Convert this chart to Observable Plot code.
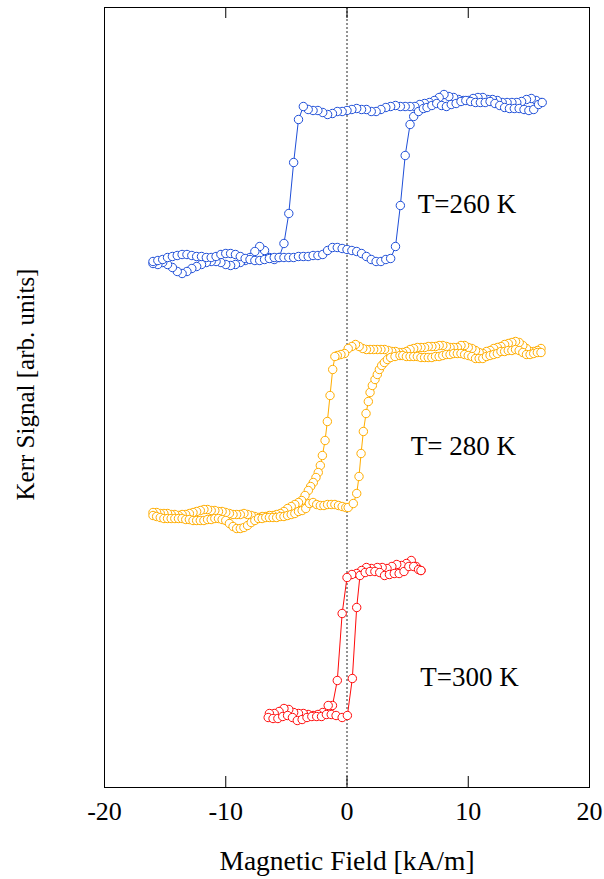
<!DOCTYPE html>
<html>
<head>
<meta charset="utf-8">
<script src="https://cdn.jsdelivr.net/npm/d3@7"></script>
<script src="https://cdn.jsdelivr.net/npm/@observablehq/plot@0.6"></script>
<style>
  html, body { margin: 0; padding: 0; background: #ffffff; }
  #chart { width: 604px; height: 879px; }
</style>
</head>
<body>
<div id="chart"></div>
<script>
// ---------- data (field in kA/m, Kerr signal in arbitrary units) ----------
const xTicks = [-20, -10, 0, 10, 20];
const xLabel = "Magnetic Field [kA/m]";
const yLabel = "Kerr Signal [arb. units]";
const curveLabels = ["T=260 K", "T= 280 K", "T=300 K"];
const curveLabelField = [9.9, 9.6, 10.1];
const curveLabelSignal = [575, 333, 102];

// T = 260 K : sweep down (+16 -> -16), then sweep up (-16 -> +16)
const blue260Down = [
[16.0,685],[15.6,687],[15.2,689],[14.8,688],[14.4,686],[14.0,685],[13.6,685],[13.2,685],[12.8,685],[12.4,687],
[12.0,688],[11.6,688],[11.2,690],[10.8,690],[10.4,689],[10.0,687],[9.6,687],[9.2,688],[8.8,690],[8.4,691],
[8.0,693],[7.6,690],[7.2,687],[6.8,685],[6.4,684],[6.0,683],[5.6,681],[5.2,681],[4.8,681],[4.4,681],
[4.0,682],[3.6,681],[3.2,680],[2.8,678],[2.4,676],[2.0,676],[1.6,678],[1.2,678],[0.8,679],[0.4,678],
[0.0,677],[-0.4,676],[-0.8,676],[-1.2,674],[-1.6,673],[-2.0,675],[-2.4,677],[-2.8,677],[-3.2,678],[-3.6,681],
[-4.0,668],[-4.4,625],[-4.8,574],[-5.2,544],[-5.6,530],[-6.0,528],[-6.4,530],[-6.8,537],[-7.2,541],[-7.6,536],
[-8.0,530],[-8.4,527],[-8.8,525],[-9.2,523],[-9.6,522],[-10.0,523],[-10.4,525],[-10.8,526],[-11.2,526],[-11.6,525],
[-12.0,523],[-12.4,521],[-12.8,519],[-13.2,516],[-13.6,514],[-14.0,516],[-14.4,520],[-14.8,523],[-15.2,525],[-15.6,523],
[-16.0,524]
];
const blue260Up = [
[-16.0,526],[-15.6,527],[-15.2,528],[-14.8,530],[-14.4,531],[-14.0,532],[-13.6,533],[-13.2,533],[-12.8,532],[-12.4,531],
[-12.0,531],[-11.6,530],[-11.2,530],[-10.8,531],[-10.4,533],[-10.0,534],[-9.6,534],[-9.2,533],[-8.8,531],[-8.4,529],
[-8.0,528],[-7.6,527],[-7.2,527],[-6.8,528],[-6.4,529],[-6.0,530],[-5.6,530],[-5.2,530],[-4.8,530],[-4.4,530],
[-4.0,531],[-3.6,531],[-3.2,531],[-2.8,532],[-2.4,532],[-2.0,533],[-1.6,537],[-1.2,540],[-0.8,540],[-0.4,539],
[0.0,538],[0.4,537],[0.8,536],[1.2,534],[1.6,531],[2.0,528],[2.4,526],[2.8,526],[3.2,528],[3.6,529],
[4.0,541],[4.4,582],[4.8,632],[5.2,663],[5.5,671],[5.9,676],[6.3,679],[6.6,680],[7.0,682],[7.4,684],
[7.8,682],[8.2,681],[8.6,683],[9.0,684],[9.4,686],[9.8,687],[10.2,686],[10.6,685],[11.0,685],[11.4,685],
[11.8,686],[12.2,684],[12.6,682],[13.0,680],[13.4,679],[13.8,679],[14.2,679],[14.6,678],[15.0,677],[15.4,678],
[15.8,683],[16.1,685]
];

// T = 280 K
const orange280Down = [
[16.0,439],[15.7,437],[15.4,436],[15.1,436],[14.8,439],[14.5,442],[14.2,445],[13.9,446],[13.6,445],[13.3,444],
[13.0,443],[12.7,441],[12.4,440],[12.1,439],[11.8,437],[11.5,436],[11.2,434],[10.9,435],[10.6,437],[10.3,439],
[10.0,440],[9.7,442],[9.4,442],[9.1,440],[8.8,440],[8.5,440],[8.2,441],[7.9,442],[7.6,442],[7.3,441],
[7.0,441],[6.7,441],[6.4,440],[6.1,440],[5.8,440],[5.5,439],[5.2,438],[4.9,436],[4.6,435],[4.3,435],
[4.0,436],[3.7,436],[3.4,437],[3.1,438],[2.8,438],[2.5,438],[2.2,438],[1.9,438],[1.6,438],[1.3,439],
[1.0,441],[0.7,443],[0.4,441],[0.1,439],[-0.2,434],[-0.5,433],[-0.8,432],[-1.0,431],[-1.18,418],[-1.4,392],
[-1.62,366],[-1.81,347],[-2.03,332],[-2.2,322],[-2.37,315],[-2.56,310],[-2.78,305],[-3.0,301],[-3.19,297],[-3.46,292],
[-3.74,287],[-4.0,285],[-4.3,283],[-4.6,281],[-4.9,279],[-5.2,276],[-5.5,274],[-5.8,273],[-6.1,272],[-6.4,272],
[-6.7,271],[-7.0,271],[-7.3,270],[-7.6,271],[-7.9,272],[-8.2,273],[-8.5,274],[-8.8,273],[-9.1,273],[-9.4,273],
[-9.7,274],[-10.0,275],[-10.3,276],[-10.6,276],[-10.9,277],[-11.2,277],[-11.5,278],[-11.8,278],[-12.1,277],[-12.4,276],
[-12.7,275],[-13.0,274],[-13.3,273],[-13.6,273],[-13.9,272],[-14.2,273],[-14.5,273],[-14.8,274],[-15.1,274],[-15.4,274],
[-15.7,275],[-16.0,275]
];
const orange280Up = [
[-16.0,272],[-15.7,271],[-15.4,270],[-15.1,269],[-14.8,269],[-14.5,269],[-14.2,269],[-13.9,269],[-13.6,269],[-13.3,268],
[-13.0,268],[-12.7,267],[-12.4,267],[-12.1,267],[-11.8,267],[-11.5,268],[-11.2,268],[-10.9,269],[-10.6,269],[-10.3,268],
[-10.0,267],[-9.7,264],[-9.4,261],[-9.1,259],[-8.8,259],[-8.5,260],[-8.2,262],[-7.9,265],[-7.6,267],[-7.3,269],
[-7.0,269],[-6.7,270],[-6.4,270],[-6.1,270],[-5.8,270],[-5.5,271],[-5.2,271],[-4.9,272],[-4.6,273],[-4.3,274],
[-4.0,276],[-3.7,277],[-3.4,279],[-3.1,284],[-2.8,285],[-2.5,283],[-2.2,282],[-1.9,282],[-1.6,283],[-1.3,283],
[-1.0,283],[-0.7,282],[-0.4,281],[-0.1,280],[0.1,280],[0.52,284],[0.8,294],[0.99,311],[1.16,334],[1.35,356],
[1.57,374],[1.76,386],[1.9,395],[2.09,402],[2.31,408],[2.5,413],[2.67,418],[2.86,422],[3.08,425],[3.33,428],
[3.6,430],[3.96,431],[4.37,432],[4.6,432],[4.9,431],[5.2,431],[5.5,431],[5.8,431],[6.1,430],[6.4,430],
[6.7,430],[7.0,430],[7.3,431],[7.6,431],[7.9,432],[8.2,433],[8.5,433],[8.8,434],[9.1,434],[9.4,434],
[9.7,433],[10.0,432],[10.3,431],[10.6,429],[10.9,429],[11.2,429],[11.5,431],[11.8,432],[12.1,433],[12.4,434],
[12.7,436],[13.0,436],[13.3,437],[13.6,437],[13.9,438],[14.2,437],[14.5,435],[14.8,433],[15.1,433],[15.4,434],
[15.7,435],[16.0,435]
];

// T = 300 K
const red300Down = [
[6.1,217],[5.7,221],[5.3,227],[4.9,224],[4.5,222],[4.1,223],[3.7,221],[3.3,219],[2.9,220],[2.5,220],
[2.0,219],[1.6,220],[1.2,217],[0.8,214],[0.4,213],[0.0,210],[-0.4,174],[-0.8,107],[-1.2,82],[-1.55,82],
[-2.0,75],[-2.4,73],[-2.8,72],[-3.2,73],[-3.6,74],[-4.0,74],[-4.4,75],[-4.8,78],[-5.2,79],[-5.6,76],
[-6.0,74],[-6.4,74]
];
const red300Up = [
[-6.5,70],[-6.1,69],[-5.7,69],[-5.3,71],[-4.9,72],[-4.5,70],[-4.1,67],[-3.7,68],[-3.3,70],[-2.9,71],
[-2.5,71],[-2.1,71],[-1.7,73],[-1.3,73],[-0.9,72],[-0.4,70],[0.03,72],[0.44,109],[0.8,180],[1.07,212],
[1.5,215],[1.9,216],[2.3,216],[2.7,215],[3.1,212],[3.5,213],[3.9,214],[4.3,214],[4.7,216],[5.1,221],
[5.5,221],[5.9,218],[6.1,217]
];

// ---------- build tables ----------
const toRows = arr => arr.map(([field, signal]) => ({field, signal}));
const loop260 = toRows([...blue260Down, ...blue260Up]);
const loop280 = toRows([...orange280Down, ...orange280Up]);
const loop300 = toRows([...red300Down, ...red300Up]);
const labelRows = curveLabels.map((text, i) => ({text, field: curveLabelField[i], signal: curveLabelSignal[i]}));

const FONT = "'Liberation Serif', 'Times New Roman', Times, serif";
const BLUE = "#1f4fd8";
const ORANGE = "#ffad00";
const RED = "#ff0a0a";

function loopMarks(rows, color) {
  return [
    Plot.line(rows, {x: "field", y: "signal", stroke: color, strokeWidth: 1}),
    Plot.dot(rows, {x: "field", y: "signal", r: 4.2, stroke: color, fill: "white", strokeWidth: 1})
  ];
}

const chart = Plot.plot({
  width: 604,
  height: 879,
  marginLeft: 104,
  marginRight: 15,
  marginTop: 7,
  marginBottom: 92,
  style: {fontFamily: FONT, background: "white", color: "black"},
  x: {domain: [-20, 20], axis: null},
  y: {domain: [0, 780], axis: null},
  marks: [
    Plot.ruleX([0], {stroke: "#6f6f6f", strokeWidth: 1.5, strokeDasharray: "2,2"}),
    ...loopMarks(loop260, BLUE),
    ...loopMarks(loop280, ORANGE),
    ...loopMarks(loop300, RED),
    Plot.text(labelRows, {x: "field", y: "signal", text: "text", lineAnchor: "bottom", textAnchor: "middle", fontSize: 27, fill: "black"}),
    Plot.frame({stroke: "black", strokeWidth: 1}),
    Plot.tickX(xTicks, {x: d => d, insetTop: 769, stroke: "black", strokeWidth: 1}),
    Plot.tickX(xTicks, {x: d => d, insetBottom: 769, stroke: "black", strokeWidth: 1}),
    Plot.axisX(xTicks, {anchor: "bottom", tickSize: 0, tickPadding: 14, tickFormat: d => String(d), fontSize: 26, label: null}),
    Plot.text([xLabel], {frameAnchor: "bottom", lineAnchor: "bottom", textAnchor: "middle", dy: 82, fontSize: 27.5, fill: "black"}),
    Plot.text([yLabel], {frameAnchor: "left", rotate: -90, textAnchor: "middle", lineAnchor: "middle", dx: -79, dy: -13, fontSize: 25, fill: "black"})
  ]
});
document.getElementById("chart").appendChild(chart);
</script>
</body>
</html>
